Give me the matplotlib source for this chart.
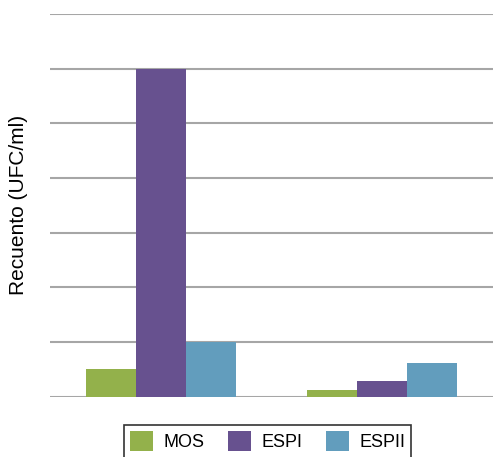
import matplotlib
matplotlib.use("Agg")
import matplotlib.pyplot as plt
import numpy as np

plt.rcParams['font.family'] = ['Liberation Sans', 'DejaVu Sans']

# datos
grupos = ["A", "B"]
series = ["MOS", "ESPI", "ESPII"]
mos = [0.5, 0.12]
espi = [6.0, 0.28]
espii = [1.0, 0.61]
colores = ["#93b14b", "#67518f", "#629dbd"]

W, H = 493, 457
fig = plt.figure(figsize=(W / 100, H / 100), dpi=100)
ax = fig.add_axes([50 / W, 1 - 396.7 / H, 443 / W, (396.7 - 14) / H])

x = np.arange(len(grupos))
ancho = 0.225
for i, (vals, nombre) in enumerate(zip([mos, espi, espii], series)):
    ax.bar(x + (i - 1) * ancho, vals, ancho, color=colores[i], label=nombre,
           zorder=3, edgecolor="none")

ax.set_xlim(-0.5, 1.5)
ax.set_ylim(0, 7)
ax.set_yticks(range(0, 8))
ax.yaxis.grid(True, color="#a6a6a6", linewidth=1.5, zorder=0)
ax.tick_params(left=False, bottom=False, labelleft=False, labelbottom=False)
for s in ax.spines.values():
    s.set_visible(False)

fig.text(19 / W, 1 - 205 / H, "Recuento (UFC/ml)", rotation=90,
         ha="center", va="center", fontsize=15)

leg = fig.legend(loc="upper center", bbox_to_anchor=(267.5 / W, 1 - 416 / H),
                 ncol=3, frameon=True, fancybox=False, fontsize=13,
                 handlelength=1.3, handleheight=1.3, columnspacing=1.3,
                 handletextpad=0.55, borderpad=0.35)
leg.get_frame().set_edgecolor("black")
leg.get_frame().set_linewidth(1.2)

fig.savefig("out.png", dpi=100)
